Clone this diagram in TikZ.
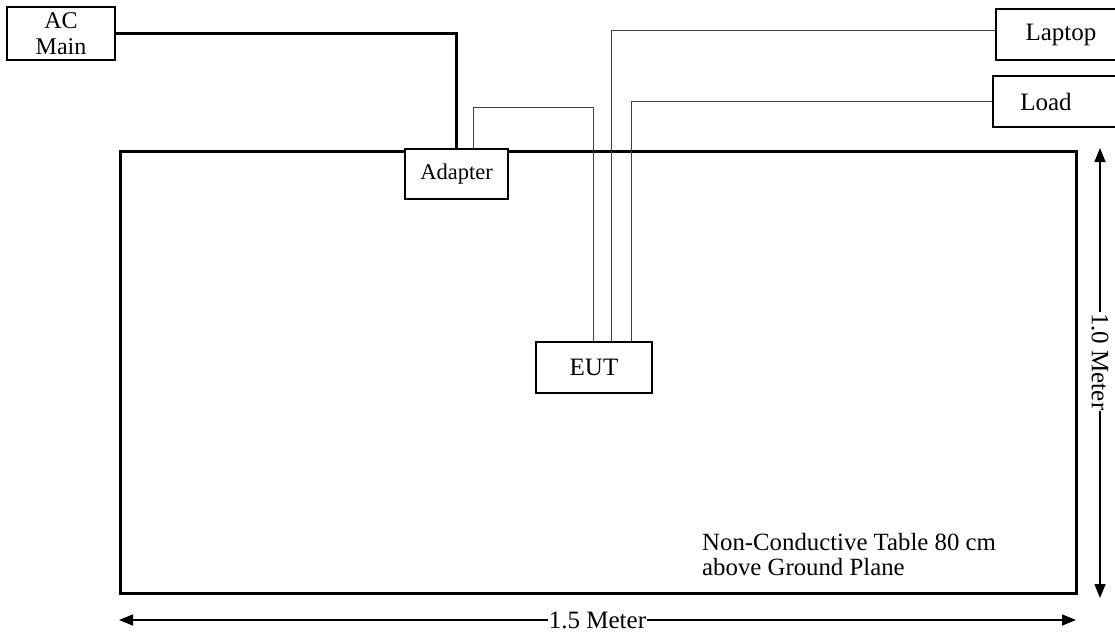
\documentclass[tikz,border=0pt]{standalone}
\usepackage{fontspec}
\setmainfont{Liberation Serif}
\usetikzlibrary{arrows.meta,calc}
\begin{document}
\begin{tikzpicture}[x=1pt,y=-1pt,
  box/.style={draw,line width=1.3pt,inner sep=0pt,fill=white,font=\fontsize{25}{27}\selectfont,align=center},
  thickwire/.style={line width=3pt},
  thinwire/.style={line width=0.9pt,black!75},
  dimline/.style={line width=1.4pt,{Triangle[length=14pt,width=11pt]}-{Triangle[length=14pt,width=11pt]}},
  dimlabel/.style={fill=white,inner sep=1pt,font=\fontsize{25}{27}\selectfont}]
\useasboundingbox (0,0) rectangle (1115,633);
% table
\node[draw,line width=3pt,minimum width=956,minimum height=442,inner sep=0pt] (table) at (598,372) {};
% boxes
\node[box,minimum width=108,minimum height=53,font=\fontsize{24}{26}\selectfont] (acmain) at (61,33.5) {AC\\Main};
\node[box,minimum width=103,minimum height=50,font=\fontsize{22.5}{25}\selectfont] (adapter) at (456.5,174) {Adapter};
\node[box,minimum width=116,minimum height=51] (eut) at (594,367.5) {EUT};
\node[box,minimum width=130,minimum height=51] (laptop) at (1061,34.5) {Laptop};
\node[box,minimum width=130,minimum height=51] (load) at (1058,101.5) {Load\hspace{24pt}};
% AC main to adapter
\draw[thickwire] (acmain.east) -| (adapter.north);
% adapter to EUT
\coordinate (a1) at (473,107);
\coordinate (a2) at (593,107);
\draw[thinwire] (a1 |- adapter.north) -- (a1) -- (a2) -- (a2 |- eut.north);
% laptop to EUT
\coordinate (l1) at (611,30);
\draw[thinwire] (laptop.west |- l1) -- (l1) -- (l1 |- eut.north);
% load to EUT
\coordinate (d1) at (631,101.5);
\draw[thinwire] (load.west |- d1) -- (d1) -- (d1 |- eut.north);
% note
\node[anchor=north west,inner sep=0pt,align=left,font=\fontsize{24.8}{25}\selectfont] (note) at (702,533) {Non-Conductive Table 80 cm\\above Ground Plane};
% dimensions
\coordinate (v1) at (1100,148);
\coordinate (v2) at (1100,598);
\draw[dimline] (v1) -- node[dimlabel,rotate=-90,pos=0.475] (vlab) {1.0 Meter} (v2);
\coordinate (h1) at (119,620);
\coordinate (h2) at (1076,620);
\draw[dimline] (h1) -- node[dimlabel] (hlab) {1.5 Meter} (h2);
\end{tikzpicture}
\end{document}
